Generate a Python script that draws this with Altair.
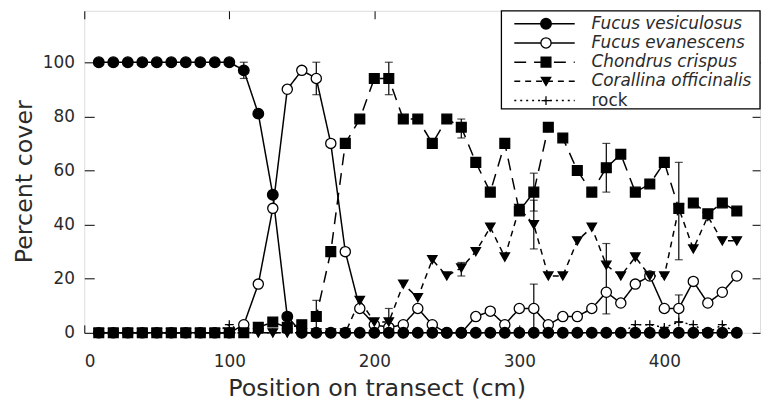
import altair as alt
import pandas as pd

positions = [10, 20, 30, 40, 50, 60, 70, 80, 90, 100, 110, 120, 130, 140, 150, 160, 170, 180, 190, 200,
             210, 220, 230, 240, 250, 260, 270, 280, 290, 300, 310, 320, 330, 340, 350, 360, 370, 380, 390, 400,
             410, 420, 430, 440, 450]

species = ["Fucus vesiculosus", "Fucus evanescens", "Chondrus crispus", "Corallina officinalis", "rock"]

vesiculosus = [100, 100, 100, 100, 100, 100, 100, 100, 100, 100, 97, 81, 51, 6, 0, 0, 0, 0, 0, 0,
               0, 0, 0, 0, 0, 0, 0, 0, 0, 0, 0, 0, 0, 0, 0, 0, 0, 0, 0, 0,
               0, 0, 0, 0, 0]
evanescens = [0, 0, 0, 0, 0, 0, 0, 0, 0, 0, 3, 18, 46, 90, 97, 94, 70, 30, 9, 3,
              2, 3, 9, 3, 0, 0, 6, 8, 3, 9, 9, 3, 6, 6, 9, 15, 11, 18, 21, 9,
              9, 19, 11, 15, 21]
chondrus = [0, 0, 0, 0, 0, 0, 0, 0, 0, 0, 0, 2, 4, 2, 3, 6, 30, 70, 79, 94,
            94, 79, 79, 70, 79, 76, 63, 52, 70, 45, 52, 76, 72, 60, 52, 61, 66, 52, 55, 63,
            46, 48, 44, 48, 45]
corallina = [0, 0, 0, 0, 0, 0, 0, 0, 0, 0, 0, 0, 0, 0, 0, 0, 0, 0, 12, 4,
             4, 18, 13, 27, 21, 24, 30, 39, 28, 46, 40, 21, 21, 34, 39, 25, 21, 28, 21, 21,
             46, 31, 43, 34, 34]
rock = [0, 0, 0, 0, 0, 0, 0, 0, 0, 3, 0, 0, 0, 0, 0, 0, 0, 0, 0, 0,
        0, 0, 0, 0, 0, 0, 0, 0, 0, 0, 0, 0, 0, 0, 0, 0, 0, 3, 3, 2,
        4, 3, 0, 3, 0]

err_species = ["Fucus vesiculosus", "Fucus evanescens", "Fucus evanescens", "Fucus evanescens", "Fucus evanescens",
               "Chondrus crispus", "Chondrus crispus", "Chondrus crispus", "Chondrus crispus", "Chondrus crispus",
               "Chondrus crispus", "Corallina officinalis", "Corallina officinalis", "Corallina officinalis"]
err_x = [110, 160, 310, 360, 410, 160, 210, 260, 310, 360, 410, 210, 260, 310]
err_lo = [94, 88, 0, 7, 4, 1, 88, 72, 45, 52, 27, 0, 21, 31]
err_hi = [100, 100, 18, 33, 14, 12, 100, 79, 59, 70, 63, 9, 26, 49]

x_ticks = [0, 100, 200, 300, 400]
y_ticks = [0, 20, 40, 60, 80, 100]

# ---- tables
series = {"Fucus vesiculosus": vesiculosus, "Fucus evanescens": evanescens,
          "Chondrus crispus": chondrus, "Corallina officinalis": corallina, "rock": rock}
draw_order = ["rock", "Fucus evanescens", "Chondrus crispus", "Corallina officinalis", "Fucus vesiculosus"]
rows = []
for sp in draw_order:
    for x, v in zip(positions, series[sp]):
        rows.append({"species": sp, "x": x, "y": v})
df = pd.DataFrame(rows)
err_df = pd.DataFrame({"species": err_species, "x": err_x, "lo": err_lo, "hi": err_hi})
leg_df = pd.DataFrame({"species": species, "row": list(range(len(species)))})

TEXT = "#2a2a2a"
FONT = "DejaVu Sans"

shape_scale = alt.Scale(domain=species, range=["circle", "circle", "square", "triangle-down",
                                               "M-1,0L1,0M0,-1L0,1"])
fill_scale = alt.Scale(domain=species, range=["black", "white", "black", "black", "black"])
size_scale = alt.Scale(domain=species, range=[115, 80, 70, 100, 100])
dash_scale = alt.Scale(domain=species, range=[[1, 0], [1, 0], [12, 8], [6, 5], [2, 4]])

xs = alt.Scale(domain=[0, 466], nice=False, zero=False)
ys = alt.Scale(domain=[0, 119], nice=False, zero=False)

base = alt.Chart(df)

lines = base.mark_line(color="black", strokeWidth=1.5).encode(
    x=alt.X("x:Q", scale=xs, axis=None),
    y=alt.Y("y:Q", scale=ys, axis=None),
    detail="species:N",
    strokeDash=alt.StrokeDash("species:N", scale=dash_scale, legend=None),
)

err_rule = alt.Chart(err_df).mark_rule(color="black", strokeWidth=1.2).encode(
    x=alt.X("x:Q", scale=xs, axis=None),
    y=alt.Y("lo:Q", scale=ys, axis=None),
    y2="hi:Q",
)
cap_lo = alt.Chart(err_df).mark_tick(color="black", orient="horizontal", size=8, thickness=1.2).encode(
    x=alt.X("x:Q", scale=xs, axis=None),
    y=alt.Y("lo:Q", scale=ys, axis=None),
)
cap_hi = alt.Chart(err_df).mark_tick(color="black", orient="horizontal", size=8, thickness=1.2).encode(
    x=alt.X("x:Q", scale=xs, axis=None),
    y=alt.Y("hi:Q", scale=ys, axis=None),
)

points = base.mark_point(filled=True, stroke="black", strokeWidth=1.3, opacity=1).encode(
    x=alt.X("x:Q", scale=xs, axis=alt.Axis(
        values=x_ticks, orient="bottom", offset=-8, tickSize=8, domain=False, grid=False,
        labelPadding=21, labelFontSize=17, labelColor=TEXT, tickColor="black",
        title="Position on transect (cm)", titleFontSize=24, titleFontWeight="normal",
        titleColor=TEXT, titleX=295, titleY=71, titleAlign="center", titleBaseline="alphabetic")),
    y=alt.Y("y:Q", scale=ys, axis=alt.Axis(
        values=y_ticks, orient="left", offset=-10, tickSize=10, domain=False, grid=False,
        labelPadding=10, labelFontSize=17, labelColor=TEXT, tickColor="black",
        title="Percent cover", titleFontSize=24, titleFontWeight="normal", titleColor=TEXT,
        titleX=-63, titleY=172, titleAngle=270, titleAlign="center", titleBaseline="alphabetic")),
    shape=alt.Shape("species:N", scale=shape_scale, legend=None),
    fill=alt.Fill("species:N", scale=fill_scale, legend=None),
    size=alt.Size("species:N", scale=size_scale, legend=None),
)

ghost = base.mark_point(opacity=0).encode(
    x=alt.X("x:Q", scale=xs, axis=alt.Axis(
        values=x_ticks, orient="top", offset=-8, tickSize=8, domain=False, grid=False,
        labels=False, title=None, tickColor="black")),
    y=alt.Y("y:Q", scale=ys, axis=alt.Axis(
        values=y_ticks, orient="right", offset=-8, tickSize=8, domain=False, grid=False,
        labels=False, title=None, tickColor="black")),
)

# ---- legend
leg_base = alt.Chart(leg_df).transform_calculate(ly="13 + datum.row * 19.4")
leg_box = alt.Chart(pd.DataFrame({"k": [0]})).mark_rect(
    fill="white", stroke="black", strokeWidth=1.3).encode(
    x=alt.value(421), x2=alt.value(682), y=alt.value(0), y2=alt.value(99))
leg_lines = leg_base.mark_rule(color="black", strokeWidth=1.5).encode(
    x=alt.value(434), x2=alt.value(495),
    y=alt.Y("ly:Q", scale=None, axis=None),
    strokeDash=alt.StrokeDash("species:N", scale=dash_scale, legend=None),
)
leg_pts = leg_base.mark_point(filled=True, stroke="black", strokeWidth=1.3, opacity=1).encode(
    x=alt.value(466),
    y=alt.Y("ly:Q", scale=None, axis=None),
    shape=alt.Shape("species:N", scale=shape_scale, legend=None),
    fill=alt.Fill("species:N", scale=fill_scale, legend=None),
    size=alt.Size("species:N", scale=size_scale, legend=None),
)
leg_text_it = leg_base.transform_filter("datum.species != 'rock'").mark_text(
    align="left", baseline="middle", fontSize=17, fontStyle="italic", color=TEXT, font=FONT).encode(
    x=alt.value(512), y=alt.Y("ly:Q", scale=None, axis=None), text="species:N")
leg_text_rm = leg_base.transform_filter("datum.species == 'rock'").mark_text(
    align="left", baseline="middle", fontSize=17, color=TEXT, font=FONT).encode(
    x=alt.value(512), y=alt.Y("ly:Q", scale=None, axis=None), text="species:N")

chart = alt.layer(
    lines, err_rule, cap_lo, cap_hi, points, ghost,
    leg_box, leg_lines, leg_pts, leg_text_it, leg_text_rm,
).resolve_axis(x="independent", y="independent").properties(
    width=682, height=325,
    autosize=alt.AutoSizeParams(type="none"),
    padding={"left": 77, "top": 1, "right": 1, "bottom": 70},
    background="white",
).configure_view(stroke="black", strokeWidth=1.3).configure(font=FONT)

chart.save("out.html", embed_options={"renderer": "svg", "actions": False})
